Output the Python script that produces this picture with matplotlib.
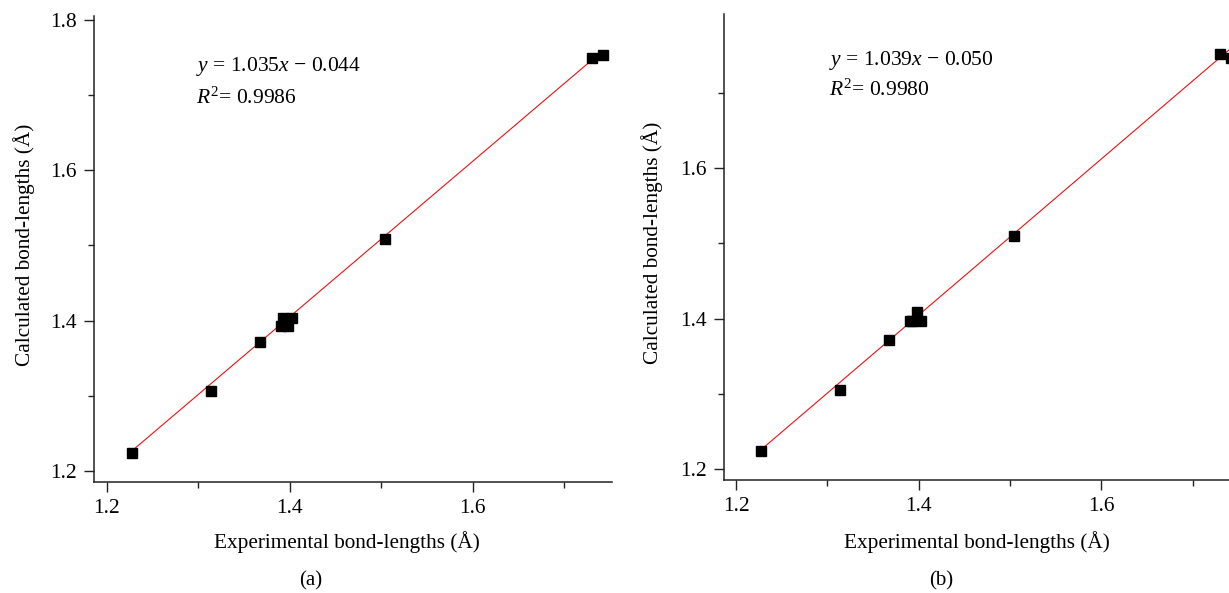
import matplotlib
matplotlib.use("Agg")
import matplotlib.pyplot as plt
import numpy as np

W = 1229
H = 593

plt.rcParams['font.family'] = ['Liberation Serif', 'DejaVu Serif']
plt.rcParams['mathtext.fontset'] = 'custom'
plt.rcParams['mathtext.rm'] = 'Liberation Serif'
plt.rcParams['mathtext.it'] = 'Liberation Serif:italic'

# experimental bond lengths (same for both panels)
exp_lengths = [1.227, 1.314, 1.368, 1.390, 1.393, 1.398, 1.403, 1.504, 1.730, 1.742]

# calculated bond lengths, panel (a) and (b)
calc_a = [1.223, 1.306, 1.371, 1.393, 1.404, 1.393, 1.404, 1.508, 1.749, 1.754]
calc_b = [1.223, 1.305, 1.371, 1.397, 1.397, 1.408, 1.397, 1.510, 1.752, 1.747]

fit_a = (1.035, -0.044, "0.9986")
fit_b = (1.039, -0.050, "0.9980")

panel_labels = ["(a)", "(b)"]


def px_axes(fig, left, right, top, bottom):
    return fig.add_axes([left / W, 1 - bottom / H, (right - left) / W, (bottom - top) / H])


def style_axes(ax, yticks):
    for s in ["top", "right"]:
        ax.spines[s].set_visible(False)
    for s in ["left", "bottom"]:
        ax.spines[s].set_linewidth(1.1)
        ax.spines[s].set_color("#222222")
    ax.set_xticks([1.2, 1.4, 1.6])
    ax.set_xticks([1.3, 1.5, 1.7], minor=True)
    ax.set_yticks(yticks)
    ax.set_yticks([1.3, 1.5, 1.7], minor=True)
    ax.tick_params(which="major", direction="out", length=7.5, width=1.0,
                   labelsize=15.5, color="#222222", pad=5)
    ax.tick_params(which="minor", direction="out", length=4.5, width=1.0,
                   color="#222222")


def draw_panel(ax, calc, fit):
    slope, icpt, r2 = fit
    xs = np.array([min(exp_lengths), max(exp_lengths)])
    ax.plot(xs, slope * xs + icpt, color="#ee1111", lw=0.8, zorder=2)
    ax.plot(exp_lengths, calc, "s", color="black", ms=6.5, zorder=3)


fig = plt.figure(figsize=(W / 100, H / 100), dpi=100)

ax1 = px_axes(fig, 94, 611.7, 16, 482)
draw_panel(ax1, calc_a, fit_a)
ax1.set_xlim(1.186, 1.752)
ax1.set_ylim(1.185, 1.8055)
style_axes(ax1, [1.2, 1.4, 1.6, 1.8])

ax2 = px_axes(fig, 723.7, 1240, 14.3, 480)
draw_panel(ax2, calc_b, fit_b)
ax2.set_xlim(1.1865, 1.7518)
ax2.set_ylim(1.185, 1.805)
style_axes(ax2, [1.2, 1.4, 1.6])


def ftext(x, y, s, **kw):
    fig.text(x / W, 1 - y / H, s, **kw)


# equations
ftext(196, 66, r"$y$ = %.3f$x$ $-$ %.3f" % (fit_a[0], -fit_a[1]), fontsize=15.5, va="center")
ftext(196, 98, r"$R^2$= " + fit_a[2], fontsize=15.5, va="center")
ftext(829, 60, r"$y$ = %.3f$x$ $-$ %.3f" % (fit_b[0], -fit_b[1]), fontsize=15.5, va="center")
ftext(829, 90, r"$R^2$= " + fit_b[2], fontsize=15.5, va="center")

# axis labels
ftext(347, 542, "Experimental bond-lengths (Å)", fontsize=15.3, ha="center", va="center")
ftext(977, 542, "Experimental bond-lengths (Å)", fontsize=15.3, ha="center", va="center")
ftext(24, 245, "Calculated bond-lengths (Å)", fontsize=15.3, ha="center", va="center", rotation=90)
ftext(652, 243, "Calculated bond-lengths (Å)", fontsize=15.3, ha="center", va="center", rotation=90)

# panel labels
ftext(311, 581, panel_labels[0], fontsize=15, ha="center", va="center")
ftext(941, 581, panel_labels[1], fontsize=15, ha="center", va="center")

fig.savefig("out.png", dpi=100)
